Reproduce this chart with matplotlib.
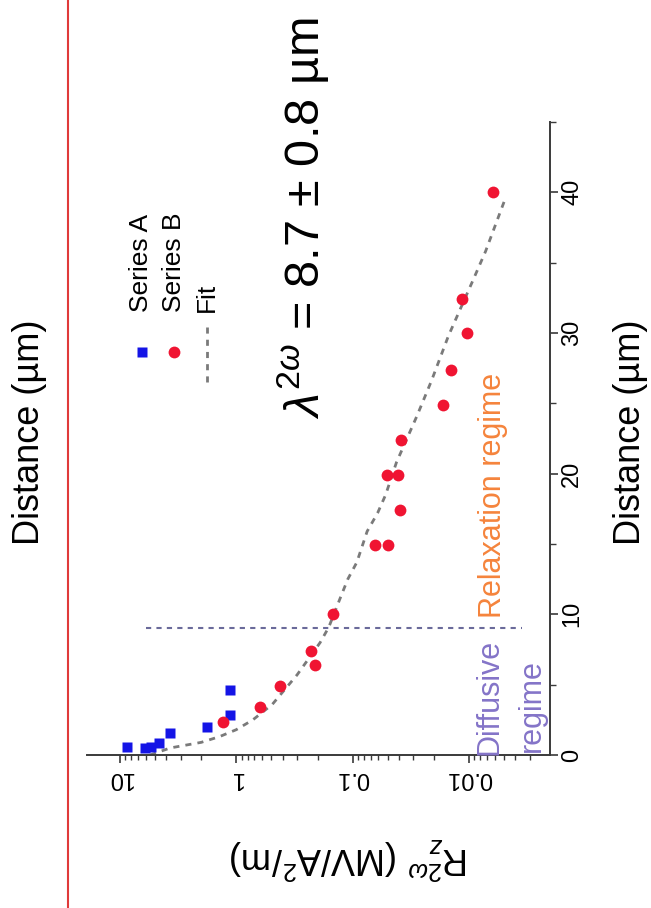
import matplotlib
matplotlib.use('Agg')
import matplotlib.pyplot as plt
from matplotlib.lines import Line2D
from matplotlib.ticker import LogLocator, NullFormatter, MultipleLocator

plt.rcParams['font.family'] = ['Liberation Sans', 'DejaVu Sans']
plt.rcParams['mathtext.fontset'] = 'custom'
plt.rcParams['mathtext.rm'] = 'Liberation Sans'
plt.rcParams['mathtext.it'] = 'Liberation Sans:italic'

# values (distance in um, R in MV/A^2/m)
series_a_dist = [0.57, 0.5, 0.6, 0.85, 1.57, 2.0, 2.85, 4.6]
series_a_r = [8.7, 6.1, 5.4, 4.6, 3.7, 1.78, 1.13, 1.13]

series_b_dist = [2.35, 3.4, 4.9, 6.4, 7.4, 10.0, 14.9, 14.9, 17.4, 19.9, 19.9,
                 22.4, 24.9, 27.4, 30.0, 32.4, 40.0]
series_b_r = [1.3, 0.62, 0.42, 0.21, 0.23, 0.148, 0.064, 0.050, 0.039, 0.051,
              0.041, 0.038, 0.0167, 0.0143, 0.0104, 0.0115, 0.0062]

fit_dist = [0, 0.5, 0.9, 1.3, 1.8, 2.5, 3.6, 5.7, 8.0, 9.1, 11, 12.5, 13.7,
            15.9, 17.2, 18.5, 20.8, 24.1, 26.6, 29.8, 33.6, 35.8, 39.5]
fit_r = [5.5, 3.7, 2.0, 1.4, 1.0, 0.72, 0.49, 0.30, 0.19, 0.16, 0.13, 0.11,
         0.092, 0.075, 0.061, 0.052, 0.042, 0.028, 0.021, 0.015, 0.0094,
         0.0072, 0.0049]

boundary_dist = 9.0
boundary_r = [6.0, 0.0035]

dist_ticks = [0, 10, 20, 30, 40]
r_ticks = [10, 1, 0.1, 0.01]
r_tick_labels = ['10', '1', '0.1', '0.01']

W, H = 651, 908


def fx(px):
    return px / W


def fy(py):
    return 1 - py / H


fig = plt.figure(figsize=(W / 100, H / 100), dpi=100)
ax = fig.add_axes([fx(87), fy(755), (550 - 87) / W, (755 - 122) / H])

# the whole chart is turned a quarter turn: distance runs up, R runs left
ax.set_xscale('log')
ax.set_xlim(19.2, 0.00201)
ax.set_ylim(0, 45)

ax.plot(fit_r, fit_dist, ls=(0, (2.2, 2.2)), color='#7a7a7a', lw=2.0, zorder=2)
ax.plot(boundary_r, [boundary_dist, boundary_dist], ls=(0, (2.5, 2.5)),
        color='#6a6a9a', lw=1.5, zorder=2)
ax.plot(series_a_r, series_a_dist, 's', color='#1414e6', ms=7.5, mec='none', zorder=3)
ax.plot(series_b_r, series_b_dist, 'o', color='#f01432', ms=8.5, mec='none', zorder=3)

for side in ['left', 'top']:
    ax.spines[side].set_visible(False)
for side in ['right', 'bottom']:
    ax.spines[side].set_color('#3a3a3a')
    ax.spines[side].set_linewidth(1.4)

ax.yaxis.tick_right()
ax.set_yticks(dist_ticks)
ax.yaxis.set_minor_locator(MultipleLocator(5))
ax.tick_params(axis='y', which='major', length=6, width=1.2, color='#3a3a3a',
               pad=2, labelsize=17, labelrotation=90)
ax.tick_params(axis='y', which='minor', length=4, width=1.0, color='#3a3a3a')
for lab in ax.get_yticklabels():
    lab.set_va('center')

ax.set_xticks(r_ticks, r_tick_labels)
ax.xaxis.set_minor_locator(LogLocator(base=10, subs=range(2, 10)))
ax.xaxis.set_minor_formatter(NullFormatter())
ax.tick_params(axis='x', which='major', length=6, width=1.2, color='#3a3a3a',
               pad=3, labelsize=17, labelrotation=180)
ax.tick_params(axis='x', which='minor', length=3.5, width=1.0, color='#3a3a3a')

# axis titles
fig.text(fx(350), fy(858), r'R$^{2\omega}_{z}$ (MV/A$^2$/m)', rotation=180,
         ha='center', va='center', fontsize=26)
fig.text(fx(630), fy(432), 'Distance (µm)', rotation=90, ha='center',
         va='center', fontsize=26)

# piece of the panel above
fig.text(fx(30), fy(432), 'Distance (µm)', rotation=90, ha='center',
         va='center', fontsize=26)
fig.add_artist(Line2D([fx(68), fx(68)], [0, 1], color='#e03a3a', lw=1.5))

# fit result
fig.text(fx(303), fy(218), r'$\lambda^{2\omega}$ = 8.7 ± 0.8 µm', rotation=90,
         ha='center', va='center', fontsize=35)

# regime labels
fig.text(fx(490), fy(755), 'Diffusive', rotation=90, ha='center', va='bottom',
         fontsize=22, color='#8474c8')
fig.text(fx(532), fy(752), 'regime', rotation=90, ha='center', va='bottom',
         fontsize=22, color='#8474c8')
fig.text(fx(493), fy(618), 'Relaxation regime', rotation=90, ha='center',
         va='bottom', fontsize=22, color='#f5843c')

# legend, drawn by hand since it is turned too
fig.add_artist(Line2D([fx(142)], [fy(352)], marker='s', color='#1414e6',
                      ms=7.5, mec='none', ls='none'))
fig.add_artist(Line2D([fx(174)], [fy(352)], marker='o', color='#f01432',
                      ms=8.5, mec='none', ls='none'))
fig.add_artist(Line2D([fx(207), fx(207)], [fy(382), fy(323)],
                      ls=(0, (2.2, 2.2)), color='#7a7a7a', lw=2.0))
for xp, name in [(141, 'Series A'), (174, 'Series B'), (207, 'Fit')]:
    fig.text(fx(xp), fy(312), name, rotation=90, ha='center', va='bottom',
             fontsize=19)

fig.savefig('out.png', dpi=100)
